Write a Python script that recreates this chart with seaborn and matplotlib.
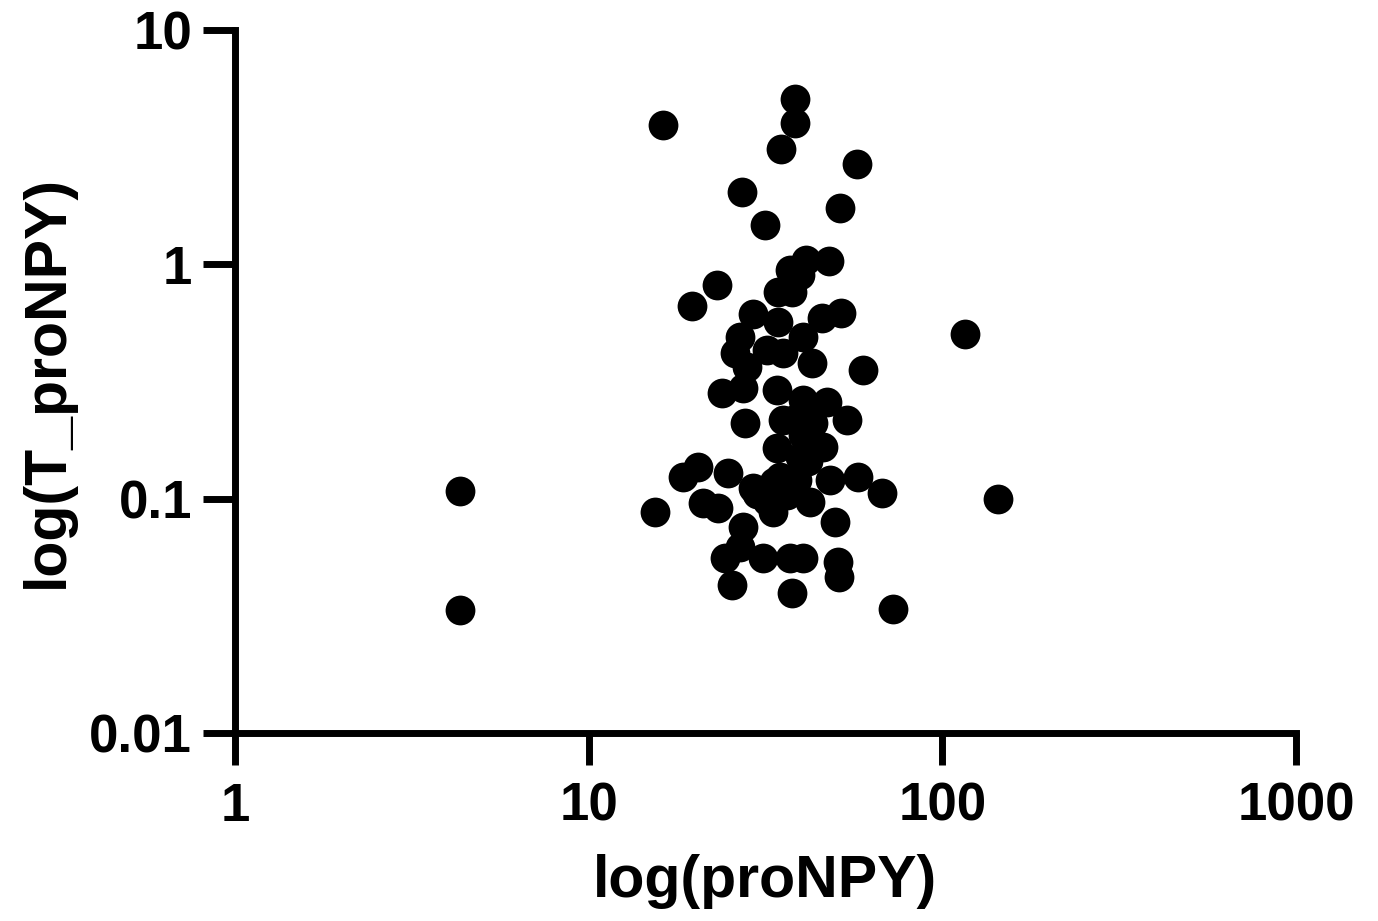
import matplotlib
matplotlib.use("Agg")
import matplotlib.pyplot as plt
import matplotlib.ticker as mticker
import seaborn as sns
import pandas as pd

proNPY = [4.33, 4.33, 16.2, 38.3, 38.3, 35.0, 57.4, 27.1, 51.3, 31.5,
          41.1, 47.8, 37.1, 39.6, 23.05, 19.6, 34.3, 37.6, 29.1, 45.7,
          51.7, 26.8, 34.3, 40.4, 25.9, 31.9, 35.4, 42.8, 28.0, 59.6,
          23.8, 27.3, 34.1, 40.4, 47.2, 27.7, 35.4, 53.7, 43.1, 46.0,
          34.1, 39.6, 20.4, 18.5, 24.8, 29.1, 34.7, 48.1, 57.7, 67.5,
          21.0, 23.2, 33.2, 42.2, 49.7, 27.3, 26.8, 24.3, 31.1, 37.1,
          40.4, 50.7, 51.2, 25.4, 37.6, 72.5, 15.4, 115.9, 143.6,
          31.9, 36.4, 38.9, 41.6, 40.4, 38.9, 30.0, 33.5, 40.8]
T_proNPY = [0.1076, 0.0335, 3.93, 5.07, 4.0, 3.1, 2.68, 2.04, 1.74, 1.47,
            1.04, 1.03, 0.946, 0.90, 0.816, 0.664, 0.762, 0.762, 0.614, 0.590,
            0.62, 0.49, 0.567, 0.49, 0.418, 0.431, 0.418, 0.379, 0.365, 0.354,
            0.282, 0.297, 0.29, 0.263, 0.258, 0.21, 0.217, 0.217, 0.21, 0.166,
            0.164, 0.151, 0.136, 0.124, 0.129, 0.111, 0.124, 0.12, 0.124, 0.106,
            0.0957, 0.091, 0.0877, 0.0967, 0.0795, 0.0757, 0.0621, 0.0558, 0.0558, 0.0558,
            0.0558, 0.0536, 0.0462, 0.0428, 0.0395, 0.0338, 0.0877, 0.504, 0.100,
            0.098, 0.104, 0.120, 0.145, 0.187, 0.220, 0.105, 0.118, 0.235]

x_ticks = [1, 10, 100, 1000]
x_tick_labels = ["1", "10", "100", "1000"]
y_ticks = [0.01, 0.1, 1, 10]
y_tick_labels = ["0.01", "0.1", "1", "10"]

df = pd.DataFrame({"proNPY": proNPY, "T_proNPY": T_proNPY})

sns.set_style("white")
plt.rcParams['font.family'] = ['Liberation Sans', 'DejaVu Sans']
plt.rcParams['font.weight'] = 'bold'
plt.rcParams['text.color'] = 'black'
plt.rcParams['axes.labelcolor'] = 'black'
plt.rcParams['xtick.color'] = 'black'
plt.rcParams['ytick.color'] = 'black'

fig = plt.figure(figsize=(13.78, 9.21), dpi=100)
ax = fig.add_axes([0.1705, 0.2041, 0.7700, 0.7633])

sns.scatterplot(data=df, x="proNPY", y="T_proNPY", ax=ax, color="black",
                s=460, edgecolor="black", linewidth=0, zorder=3)

ax.set_xscale("log")
ax.set_yscale("log")
ax.set_xlim(1, 1000)
ax.set_ylim(0.01, 10)
ax.set_xticks(x_ticks)
ax.set_xticklabels(x_tick_labels)
ax.set_yticks(y_ticks)
ax.set_yticklabels(y_tick_labels)
ax.xaxis.set_minor_locator(mticker.NullLocator())
ax.yaxis.set_minor_locator(mticker.NullLocator())

for side in ["top", "right"]:
    ax.spines[side].set_visible(False)
for side in ["left", "bottom"]:
    ax.spines[side].set_linewidth(5)
    ax.spines[side].set_color("black")
    ax.spines[side].set_capstyle("projecting")

ax.tick_params(axis="both", which="major", length=23, width=5, colors="black",
               labelsize=38, direction="out", bottom=True, left=True)
ax.tick_params(axis="x", pad=12)
ax.tick_params(axis="y", pad=8)
for lab in ax.get_xticklabels() + ax.get_yticklabels():
    lab.set_fontweight("bold")
    lab.set_color("black")

ax.set_xlabel("log(proNPY)", fontsize=42.5, fontweight="bold", labelpad=16, color="black")
ax.set_ylabel("log(T_proNPY)", fontsize=42.5, fontweight="bold", labelpad=10, color="black")

for coll in ax.collections:
    coll.set_clip_on(False)

fig.savefig("out.png", dpi=100, facecolor="white")
